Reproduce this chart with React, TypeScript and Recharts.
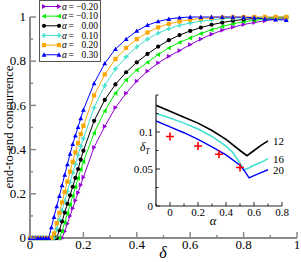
import React from 'react';
import { LineChart, ComposedChart, Line, Scatter, XAxis, YAxis, Label } from 'recharts';

// main panel: concurrence vs delta, one curve per alpha
const delta = [
  0, 0.01, 0.02, 0.03, 0.04, 0.05, 0.06, 0.07, 0.08, 0.09, 0.1, 0.11, 0.12, 0.13, 0.14, 0.15, 0.16, 0.17, 0.18, 0.19, 0.2,
  0.24, 0.28, 0.32, 0.36, 0.4, 0.44, 0.48, 0.52, 0.56, 0.6, 0.64, 0.68, 0.72, 0.76, 0.8, 0.84, 0.88, 0.92, 0.96,
];
const concM20 = [
  0, 0, 0, 0, 0, 0, 0, 0, 0, 0, 0, 0, 0, 0.03, 0.065, 0.1, 0.135, 0.17, 0.205, 0.24, 0.275,
  0.41, 0.505, 0.59, 0.655, 0.71, 0.755, 0.792, 0.822, 0.848, 0.875, 0.9, 0.922, 0.94, 0.954, 0.966, 0.975, 0.983, 0.989, 0.994,
];
const concM10 = [
  0, 0, 0, 0, 0, 0, 0, 0, 0, 0, 0, 0, 0.03, 0.07, 0.11, 0.15, 0.19, 0.23, 0.27, 0.31, 0.345,
  0.475, 0.575, 0.655, 0.715, 0.76, 0.795, 0.83, 0.86, 0.885, 0.905, 0.925, 0.942, 0.957, 0.969, 0.978, 0.985, 0.99, 0.994, 0.997,
];
const concP00 = [
  0, 0, 0, 0, 0, 0, 0, 0, 0, 0, 0, 0.035, 0.075, 0.115, 0.155, 0.193, 0.232, 0.272, 0.312, 0.355, 0.395,
  0.53, 0.625, 0.695, 0.75, 0.795, 0.833, 0.866, 0.895, 0.918, 0.937, 0.952, 0.965, 0.975, 0.983, 0.989, 0.993, 0.996, 0.998, 0.999,
];
const concP10 = [
  0, 0, 0, 0, 0, 0, 0, 0, 0, 0, 0.04, 0.083, 0.125, 0.167, 0.21, 0.252, 0.295, 0.335, 0.375, 0.415, 0.45,
  0.59, 0.69, 0.765, 0.82, 0.865, 0.9, 0.927, 0.947, 0.962, 0.973, 0.981, 0.987, 0.992, 0.995, 0.997, 0.998, 0.999, 1, 1,
];
const concP20 = [
  0, 0, 0, 0, 0, 0, 0, 0, 0, 0.02, 0.067, 0.114, 0.161, 0.208, 0.255, 0.3, 0.345, 0.388, 0.43, 0.47, 0.508,
  0.645, 0.74, 0.81, 0.86, 0.9, 0.93, 0.953, 0.969, 0.98, 0.988, 0.993, 0.996, 0.998, 0.999, 1, 1, 1, 1, 1,
];
const concP30 = [
  0, 0, 0, 0, 0, 0, 0, 0, 0.048, 0.095, 0.143, 0.19, 0.238, 0.286, 0.333, 0.381, 0.425, 0.463, 0.502, 0.541, 0.58,
  0.7, 0.79, 0.855, 0.9, 0.937, 0.963, 0.98, 0.991, 0.997, 1, 1, 1, 1, 1, 0.999, 0.997, 0.992, 0.988, 0.986,
];
const legendAlpha = ['\u22120.20', '\u22120.10', '0.00', '0.10', '0.20', '0.30'];

const mainXTicks = [0, 0.1, 0.2, 0.3, 0.4, 0.5, 0.6, 0.7, 0.8, 0.9, 1];
const mainXLabels = [0, 0.2, 0.4, 0.6, 0.8, 1];
const mainYTicks = [0, 0.1, 0.2, 0.3, 0.4, 0.5, 0.6, 0.7, 0.8, 0.9, 1];
const mainYLabels = [0, 0.2, 0.4, 0.6, 0.8, 1];

// inset: delta_T vs alpha for N = 12, 16, 20, plus red crosses
const alpha12 = [-0.1, 0, 0.1, 0.2, 0.3, 0.4, 0.5, 0.55, 0.6, 0.65, 0.7];
const deltaT12 = [0.136, 0.128, 0.12, 0.112, 0.102, 0.09, 0.075, 0.068, 0.075, 0.082, 0.088];
const alpha16 = [-0.1, 0, 0.1, 0.2, 0.3, 0.4, 0.45, 0.5, 0.525, 0.56, 0.6, 0.65, 0.7];
const deltaT16 = [0.125, 0.119, 0.112, 0.104, 0.094, 0.081, 0.072, 0.058, 0.049, 0.051, 0.055, 0.059, 0.064];
const alpha20 = [-0.1, 0, 0.1, 0.2, 0.3, 0.4, 0.5, 0.53, 0.565, 0.6, 0.65, 0.7];
const deltaT20 = [0.115, 0.107, 0.099, 0.09, 0.08, 0.069, 0.055, 0.048, 0.038, 0.041, 0.045, 0.049];
const alphaCross = [0, 0.2, 0.35, 0.5];
const deltaTCross = [0.094, 0.081, 0.07, 0.052];

const insetXTicks = [-0.1, 0, 0.1, 0.2, 0.3, 0.4, 0.5, 0.6, 0.7, 0.8];
const insetXLabels = [0, 0.2, 0.4, 0.6, 0.8];
const insetYTicks = [0, 0.025, 0.05, 0.075, 0.1, 0.125, 0.15];
const insetYLabels = [0, 0.05, 0.1];

const FONT = "'Liberation Serif', 'DejaVu Serif', serif";
const txt = { fontFamily: FONT };

const mainData = delta.map((d, i) => ({
  d,
  m20: concM20[i],
  m10: concM10[i],
  p00: concP00[i],
  p10: concP10[i],
  p20: concP20[i],
  p30: concP30[i],
}));

const series = [
  { key: 'm20', color: '#9400d3', kind: 'right' },
  { key: 'm10', color: '#00ee00', kind: 'left' },
  { key: 'p00', color: '#000000', kind: 'circle' },
  { key: 'p10', color: '#40e0d0', kind: 'plus' },
  { key: 'p20', color: '#ffa500', kind: 'square' },
  { key: 'p30', color: '#0000ff', kind: 'up' },
];

const zip = (xs: number[], ys: number[]) => xs.map((a, i) => ({ a, v: ys[i] }));

const Marker = ({ cx, cy, kind, color }: { cx: number; cy: number; kind: string; color: string }) => {
  const s = 2.4;
  switch (kind) {
    case 'circle':
      return <circle cx={cx} cy={cy} r={2.1} fill={color} />;
    case 'square':
      return <rect x={cx - 2.1} y={cy - 2.1} width={4.2} height={4.2} fill={color} />;
    case 'up':
      return <polygon points={`${cx},${cy - s} ${cx - s},${cy + s * 0.8} ${cx + s},${cy + s * 0.8}`} fill={color} />;
    case 'left':
      return <polygon points={`${cx - s},${cy} ${cx + s * 0.8},${cy - s} ${cx + s * 0.8},${cy + s}`} fill={color} />;
    case 'right':
      return <polygon points={`${cx + s},${cy} ${cx - s * 0.8},${cy - s} ${cx - s * 0.8},${cy + s}`} fill={color} />;
    default:
      return (
        <path
          d={`M${cx - 2.4},${cy}H${cx + 2.4}M${cx},${cy - 2.4}V${cy + 2.4}`}
          stroke={color}
          strokeWidth={1.4}
        />
      );
  }
};

type TickOpts = {
  side: 'bottom' | 'top' | 'left' | 'right';
  labeled: number[];
  major: number;
  minor: number;
  color: string;
  width: number;
  text: boolean;
  fontSize: number;
  gap: number;
};

const makeTick = (o: TickOpts) => (props: any) => {
  const { x, y, payload } = props;
  const v = payload.value as number;
  const isMajor = o.labeled.some((l) => Math.abs(l - v) < 1e-9);
  const len = isMajor ? o.major : o.minor;
  let x2 = x;
  let y2 = y;
  if (o.side === 'bottom') y2 = y - len;
  if (o.side === 'top') y2 = y + len;
  if (o.side === 'left') x2 = x + len;
  if (o.side === 'right') x2 = x - len;
  const showText = o.text && isMajor;
  return (
    <g>
      <line x1={x} y1={y} x2={x2} y2={y2} stroke={o.color} strokeWidth={o.width} />
      {showText && o.side === 'bottom' && (
        <text x={x} y={y + o.gap} textAnchor="middle" style={txt} fontSize={o.fontSize} fill="#000">
          {String(v)}
        </text>
      )}
      {showText && o.side === 'left' && (
        <text x={x - o.gap} y={y + o.fontSize * 0.33} textAnchor="end" style={txt} fontSize={o.fontSize} fill="#000">
          {String(v)}
        </text>
      )}
    </g>
  );
};

const FRAME = '#8a8a8a';

const MainChart = () => (
  <LineChart width={301} height={262} data={mainData} margin={{ top: 17, right: 4, bottom: 0, left: 0 }}>
    <XAxis
      dataKey="d"
      type="number"
      domain={[0, 1]}
      ticks={mainXTicks}
      interval={0}
      height={24}
      tickSize={0}
      tickMargin={0}
      axisLine={{ stroke: FRAME, strokeWidth: 2 }}
      tickLine={false}
      tick={makeTick({ side: 'bottom', labeled: mainXLabels, major: 6, minor: 3, color: FRAME, width: 1.5, text: true, fontSize: 13, gap: 11 })}
    >
      <Label
        content={() => (
          <text x={163} y={258} textAnchor="middle" style={txt} fontStyle="italic" fontSize={16} fill="#000">
            δ
          </text>
        )}
      />
    </XAxis>
    <XAxis
      xAxisId="top"
      orientation="top"
      dataKey="d"
      type="number"
      domain={[0, 1]}
      ticks={mainXTicks}
      interval={0}
      height={0}
      tickSize={0}
      tickMargin={0}
      axisLine={{ stroke: FRAME, strokeWidth: 2 }}
      tickLine={false}
      tick={makeTick({ side: 'top', labeled: mainXLabels, major: 6, minor: 3, color: FRAME, width: 1.5, text: false, fontSize: 12, gap: 0 })}
    />
    <YAxis
      type="number"
      domain={[0, 1]}
      ticks={mainYTicks}
      interval={0}
      width={30}
      tickSize={0}
      tickMargin={0}
      axisLine={{ stroke: FRAME, strokeWidth: 2 }}
      tickLine={false}
      tick={makeTick({ side: 'left', labeled: mainYLabels, major: 6, minor: 3, color: FRAME, width: 1.5, text: true, fontSize: 13, gap: 4 })}
    >
      <Label
        content={() => (
          <text
            x={0}
            y={0}
            transform="translate(13,127) rotate(-90)"
            textAnchor="middle"
            style={txt}
            fontSize={13}
            fill="#000"
          >
            end-to-end concurrence
          </text>
        )}
      />
    </YAxis>
    <YAxis
      yAxisId="right"
      orientation="right"
      type="number"
      domain={[0, 1]}
      ticks={mainYTicks}
      interval={0}
      width={0}
      tickSize={0}
      tickMargin={0}
      axisLine={{ stroke: FRAME, strokeWidth: 2 }}
      tickLine={false}
      tick={makeTick({ side: 'right', labeled: mainYLabels, major: 6, minor: 3, color: FRAME, width: 1.5, text: false, fontSize: 12, gap: 0 })}
    />
    {series.map((s) => (
      <Line
        key={s.key}
        dataKey={s.key}
        type="linear"
        stroke={s.color}
        strokeWidth={1}
        isAnimationActive={false}
        dot={(p: any) => <Marker key={`${s.key}-${p.index}`} cx={p.cx} cy={p.cy} kind={s.kind} color={s.color} />}
      />
    ))}
  </LineChart>
);

const INSET_FRAME = '#222';

const endLabel = (text: string, last: number) => (p: any) =>
  p.index === last ? (
    <text key={`l-${text}`} x={p.x + 5} y={p.y + 4} style={txt} fontSize={11} fill="#000">
      {text}
    </text>
  ) : (
    <g key={`l-${text}-${p.index}`} />
  );

const InsetChart = () => (
  <ComposedChart width={160} height={140} margin={{ top: 7, right: 8, bottom: 0, left: 0 }}>
    <XAxis
      dataKey="a"
      type="number"
      domain={[-0.1, 0.8]}
      ticks={insetXTicks}
      interval={0}
      height={22}
      tickSize={0}
      tickMargin={0}
      axisLine={{ stroke: INSET_FRAME, strokeWidth: 1.2 }}
      tickLine={false}
      allowDataOverflow
      tick={makeTick({ side: 'bottom', labeled: insetXLabels, major: 4, minor: 2.5, color: INSET_FRAME, width: 1, text: true, fontSize: 11, gap: 10 })}
    >
      <Label
        content={() => (
          <text x={83} y={137} textAnchor="middle" style={txt} fontStyle="italic" fontSize={12.5} fill="#000">
            α
          </text>
        )}
      />
    </XAxis>
    <XAxis
      xAxisId="top"
      orientation="top"
      dataKey="a"
      type="number"
      domain={[-0.1, 0.8]}
      ticks={insetXTicks}
      interval={0}
      height={0}
      tickSize={0}
      tickMargin={0}
      axisLine={{ stroke: INSET_FRAME, strokeWidth: 1.2 }}
      tickLine={false}
      allowDataOverflow
      tick={makeTick({ side: 'top', labeled: insetXLabels, major: 4, minor: 2.5, color: INSET_FRAME, width: 1, text: false, fontSize: 10, gap: 0 })}
    />
    <YAxis
      dataKey="v"
      type="number"
      domain={[0, 0.15]}
      ticks={insetYTicks}
      interval={0}
      width={26}
      tickSize={0}
      tickMargin={0}
      axisLine={{ stroke: INSET_FRAME, strokeWidth: 1.2 }}
      tickLine={false}
      allowDataOverflow
      tick={makeTick({ side: 'left', labeled: insetYLabels, major: 4, minor: 2.5, color: INSET_FRAME, width: 1, text: true, fontSize: 11, gap: 3 })}
    >
      <Label
        content={() => (
          <text x={10} y={63} style={txt} fontSize={11.5} fill="#000">
            <tspan fontStyle="italic">δ</tspan>
            <tspan fontStyle="italic" fontSize={8} dy={3}>
              T
            </tspan>
          </text>
        )}
      />
    </YAxis>
    <YAxis
      yAxisId="right"
      orientation="right"
      dataKey="v"
      type="number"
      domain={[0, 0.15]}
      ticks={insetYTicks}
      interval={0}
      width={0}
      tickSize={0}
      tickMargin={0}
      axisLine={{ stroke: INSET_FRAME, strokeWidth: 1.2 }}
      tickLine={false}
      allowDataOverflow
      tick={makeTick({ side: 'right', labeled: insetYLabels, major: 4, minor: 2.5, color: INSET_FRAME, width: 1, text: false, fontSize: 10, gap: 0 })}
    />
    <Line
      data={zip(alpha12, deltaT12)}
      dataKey="v"
      type="linear"
      stroke="#000"
      strokeWidth={1.6}
      dot={false}
      isAnimationActive={false}
      label={endLabel('12', alpha12.length - 1)}
    />
    <Line
      data={zip(alpha16, deltaT16)}
      dataKey="v"
      type="linear"
      stroke="#40e0d0"
      strokeWidth={1.6}
      dot={false}
      isAnimationActive={false}
      label={endLabel('16', alpha16.length - 1)}
    />
    <Line
      data={zip(alpha20, deltaT20)}
      dataKey="v"
      type="linear"
      stroke="#0000ff"
      strokeWidth={1.4}
      dot={false}
      isAnimationActive={false}
      label={endLabel('20', alpha20.length - 1)}
    />
    <Scatter
      data={zip(alphaCross, deltaTCross)}
      dataKey="v"
      isAnimationActive={false}
      shape={(p: any) => (
        <path
          d={`M${p.cx - 4},${p.cy}H${p.cx + 4}M${p.cx},${p.cy - 4}V${p.cy + 4}`}
          stroke="#ff0000"
          strokeWidth={1.6}
        />
      )}
    />
  </ComposedChart>
);

const LegendBox = () => (
  <div
    style={{
      position: 'absolute',
      left: 39,
      top: 0,
      width: 60,
      height: 60,
      border: '1px solid #555',
      background: '#fff',
    }}
  >
    <svg width={60} height={60}>
      {series.map((s, i) => {
        const y = 5.5 + i * 9.65;
        return (
          <g key={s.key}>
            <line x1={4} y1={y} x2={19} y2={y} stroke={s.color} strokeWidth={1} />
            <Marker cx={4} cy={y} kind={s.kind} color={s.color} />
            <Marker cx={19} cy={y} kind={s.kind} color={s.color} />
            <text x={22} y={y + 3.2} style={txt} fontStyle="italic" fontSize={9.5} fill="#000">
              α
            </text>
            <text x={28.5} y={y + 3.2} style={txt} fontSize={9.5} fill="#000">
              =
            </text>
            <text x={58} y={y + 3.2} textAnchor="end" style={txt} fontSize={9.5} fill="#000">
              {legendAlpha[i]}
            </text>
          </g>
        );
      })}
    </svg>
  </div>
);

export default function App() {
  return (
    <div style={{ position: 'absolute', left: 0, top: 0, width: 301, height: 262, background: '#fff', overflow: 'hidden' }}>
      <MainChart />
      <div style={{ position: 'absolute', left: 130, top: 88, width: 160, height: 140 }}>
        <InsetChart />
      </div>
      <LegendBox />
    </div>
  );
}
